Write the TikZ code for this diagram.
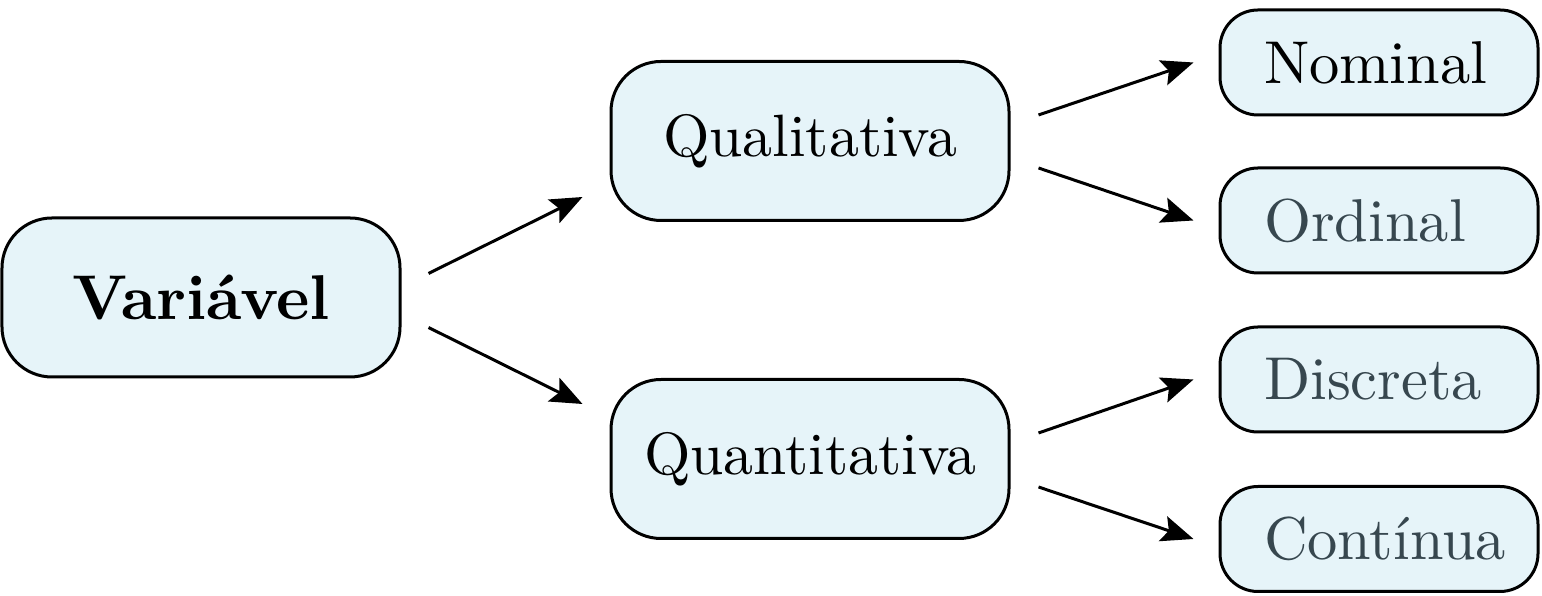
\documentclass[tikz,border=0pt]{standalone}
\usepackage{fontspec}
\setmainfont{lmroman10-regular.otf}[BoldFont=lmroman10-bold.otf]
\usetikzlibrary{calc,arrows.meta}
\definecolor{boxfill}{HTML}{E6F4F9}
\definecolor{leaftext}{HTML}{37474F}
\newcommand{\leaftxt}[1]{\makebox[2.30cm][l]{#1}}
\tikzset{
  bigbox/.style={draw=black, line width=0.03cm, fill=boxfill, rounded corners=0.5cm,
    minimum width=3.98cm, minimum height=1.59cm, inner sep=0pt,
    font=\fontsize{17}{21}\selectfont},
  leafbox/.style={draw=black, line width=0.03cm, fill=boxfill, rounded corners=0.38cm,
    minimum width=3.18cm, minimum height=1.05cm, inner xsep=0.44cm, inner ysep=0pt,
    font=\fontsize{17.2}{21}\selectfont},
  conn/.style={line width=0.03cm, -{Stealth[length=0.32cm,width=0.26cm,inset=0.06cm]}}
}
\begin{document}
\begin{tikzpicture}
\useasboundingbox (0,0) rectangle (15.42,-5.96);
\node[bigbox, font=\fontsize{18}{21}\selectfont] (var) at (2.01,-2.975) {\textbf{Variável}};
\node[bigbox] (qual) at (8.10,-1.41) {Qualitativa};
\node[bigbox] (quan) at (8.10,-4.59) {Quantitativa};
\node[leafbox] (nom) at (13.79,-0.625) {\leaftxt{Nominal}};
\node[leafbox, text=leaftext] (ord) at (13.79,-2.205) {\leaftxt{Ordinal}};
\node[leafbox, text=leaftext] (dis) at (13.79,-3.795) {\leaftxt{Discreta}};
\node[leafbox, text=leaftext] (con) at (13.79,-5.39) {\leaftxt{Contínua}};
\draw[conn] ($(var.east)+(0.27,0.24)$) -- ($(qual.south west)+(-0.27,0.25)$);
\draw[conn] ($(var.east)+(0.27,-0.30)$) -- ($(quan.north west)+(-0.27,-0.26)$);
\draw[conn] ($(qual.east)+(0.28,0.26)$) -- ($(nom.west)+(-0.25,0)$);
\draw[conn] ($(qual.east)+(0.28,-0.27)$) -- ($(ord.west)+(-0.25,0)$);
\draw[conn] ($(quan.east)+(0.28,0.26)$) -- ($(dis.west)+(-0.25,0)$);
\draw[conn] ($(quan.east)+(0.28,-0.28)$) -- ($(con.west)+(-0.25,0)$);
\end{tikzpicture}
\end{document}
